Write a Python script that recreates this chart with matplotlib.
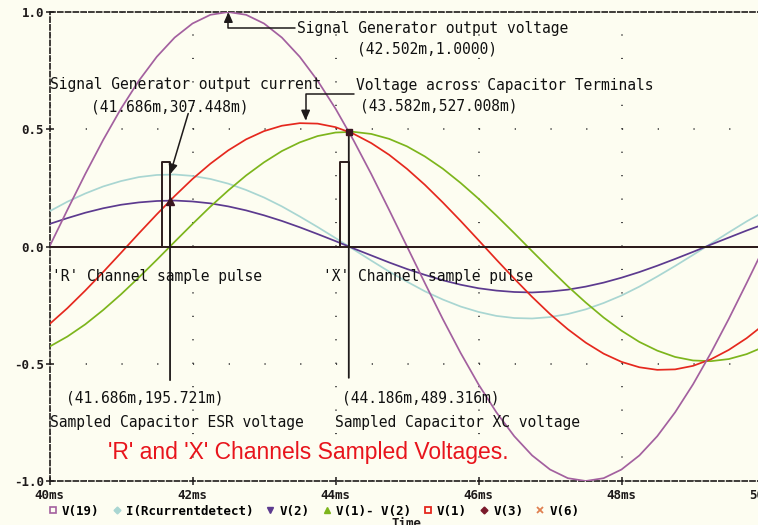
import matplotlib
matplotlib.use("Agg")
import matplotlib.pyplot as plt
from matplotlib.lines import Line2D

plt.rcParams['lines.scale_dashes'] = False

# ---------------- data ----------------
time_ms = [40.0, 40.25, 40.5, 40.75, 41.0, 41.25, 41.5, 41.75, 42.0, 42.25,
           42.5, 42.75, 43.0, 43.25, 43.5, 43.75, 44.0, 44.25, 44.5, 44.75,
           45.0, 45.25, 45.5, 45.75, 46.0, 46.25, 46.5, 46.75, 47.0, 47.25,
           47.5, 47.75, 48.0, 48.25, 48.5, 48.75, 49.0, 49.25, 49.5, 49.75, 50.0]

# V(19) signal generator output voltage
v19 = [0.000, 0.156, 0.309, 0.454, 0.588, 0.707, 0.809, 0.891, 0.951, 0.988,
       1.000, 0.988, 0.951, 0.891, 0.809, 0.707, 0.588, 0.454, 0.309, 0.156,
       0.000, -0.156, -0.309, -0.454, -0.588, -0.707, -0.809, -0.891, -0.951, -0.988,
       -1.000, -0.988, -0.951, -0.891, -0.809, -0.707, -0.588, -0.454, -0.309, -0.156, 0.000]

# I(Rcurrentdetect)
i_rcur = [0.150, 0.191, 0.226, 0.256, 0.279, 0.296, 0.305, 0.307, 0.301, 0.288,
          0.268, 0.241, 0.209, 0.171, 0.128, 0.083, 0.036, -0.012, -0.060, -0.107,
          -0.150, -0.191, -0.226, -0.256, -0.279, -0.296, -0.305, -0.307, -0.301, -0.288,
          -0.268, -0.241, -0.209, -0.171, -0.128, -0.083, -0.036, 0.012, 0.060, 0.107, 0.150]

# V(2)
v2 = [0.096, 0.121, 0.144, 0.163, 0.178, 0.188, 0.194, 0.196, 0.192, 0.184,
      0.171, 0.154, 0.133, 0.109, 0.082, 0.053, 0.023, -0.008, -0.038, -0.068,
      -0.096, -0.121, -0.144, -0.163, -0.178, -0.188, -0.194, -0.196, -0.192, -0.184,
      -0.171, -0.154, -0.133, -0.109, -0.082, -0.053, -0.023, 0.008, 0.038, 0.068, 0.096]

# V(1)- V(2)
v1_minus_v2 = [-0.427, -0.384, -0.332, -0.271, -0.204, -0.132, -0.057, 0.020, 0.096, 0.170,
               0.239, 0.303, 0.359, 0.407, 0.444, 0.471, 0.486, 0.489, 0.480, 0.459,
               0.427, 0.384, 0.332, 0.271, 0.204, 0.132, 0.057, -0.020, -0.096, -0.170,
               -0.239, -0.303, -0.359, -0.407, -0.444, -0.471, -0.486, -0.489, -0.480, -0.459, -0.427]

# V(1)
v1 = [-0.331, -0.263, -0.188, -0.109, -0.027, 0.056, 0.137, 0.215, 0.288, 0.353,
      0.410, 0.457, 0.492, 0.515, 0.526, 0.524, 0.509, 0.481, 0.441, 0.391,
      0.331, 0.263, 0.188, 0.109, 0.027, -0.056, -0.137, -0.215, -0.288, -0.353,
      -0.410, -0.457, -0.492, -0.515, -0.526, -0.524, -0.509, -0.481, -0.441, -0.391, -0.331]

# sample pulses V(3) ('R' channel) and V(6) ('X' channel)
v3_t = [40.0, 41.57, 41.57, 41.686, 41.686, 50.0]
v3_v = [0.0, 0.0, 0.36, 0.36, 0.0, 0.0]
v6_t = [40.0, 44.06, 44.06, 44.186, 44.186, 50.0]
v6_v = [0.0, 0.0, 0.36, 0.36, 0.0, 0.0]

# cursor readings
vgen_peak = (42.502, 1.0000)
icur_peak = (41.686, 0.307448)
vcap_peak = (43.582, 0.527008)
esr_sample = (41.686, 0.195721)
xc_sample = (44.186, 0.489316)

x_ticks = [40, 42, 44, 46, 48, 50]
x_tick_labels = ['40ms', '42ms', '44ms', '46ms', '48ms', '50ms']
y_ticks = [-1.0, -0.5, 0.0, 0.5, 1.0]
y_tick_labels = ['-1.0', '-0.5', '0.0', '0.5', '1.0']

series_names = ['V(19)', 'I(Rcurrentdetect)', 'V(2)', 'V(1)- V(2)', 'V(1)', 'V(3)', 'V(6)']

# ---------------- style ----------------
BG = '#fdfdf1'
C_VGEN = '#a3609f'
C_I = '#a9d6d2'
C_V2 = '#5c3a8f'
C_GREEN = '#7db51c'
C_RED = '#e5281e'
C_PULSE = '#2d1c1c'
C_AX = '#1e1a1a'
MONO = 'DejaVu Sans Mono'

fig = plt.figure(figsize=(7.58, 5.25), dpi=100, facecolor=BG)
ax = fig.add_axes([49.5 / 758, 44 / 525, 715 / 758, 469 / 525])
ax.set_facecolor(BG)
ax.set_xlim(40, 50)
ax.set_ylim(-1, 1)

# grid of sparse dots
ax.xaxis.grid(True, color='#3a3a3a', linewidth=1.3, linestyle=(0, (0.8, 16.08)))
ax.yaxis.grid(True, color='#3a3a3a', linewidth=1.3, linestyle=(0, (0.8, 24.94)))
ax.set_axisbelow(True)

lw = 1.25
ax.plot(time_ms, i_rcur, color=C_I, lw=lw, zorder=3)
ax.plot(time_ms, v2, color=C_V2, lw=lw, zorder=3)
ax.plot(time_ms, v1_minus_v2, color=C_GREEN, lw=lw, zorder=3)
ax.plot(time_ms, v1, color=C_RED, lw=lw, zorder=3)
ax.plot(time_ms, v19, color=C_VGEN, lw=lw, zorder=3)
ax.plot(v3_t, v3_v, color=C_PULSE, lw=1.4, zorder=4)
ax.plot(v6_t, v6_v, color=C_PULSE, lw=1.4, zorder=4)

# spines
for s in ['left', 'top', 'bottom']:
    ax.spines[s].set_linestyle((0, (3.6, 2.0)))
    ax.spines[s].set_color(C_AX)
    ax.spines[s].set_linewidth(1.2)
ax.spines['right'].set_visible(False)

ax.set_xticks(x_ticks)
ax.set_xticklabels(x_tick_labels)
ax.set_yticks(y_ticks)
ax.set_yticklabels(y_tick_labels)
ax.tick_params(axis='both', direction='inout', length=6, width=1.1, colors=C_AX)
ax.tick_params(axis='y', pad=1, labelsize=9)
ax.tick_params(axis='x', pad=3, labelsize=9)
for lab in ax.get_xticklabels() + ax.get_yticklabels():
    lab.set_fontfamily(MONO)
    lab.set_fontweight('bold')

# ---------------- annotations ----------------
tkw = dict(fontfamily=MONO, fontsize=10.5, color='#111111', va='center', ha='left', zorder=6)
ax.text(43.462, 0.930, 'Signal Generator output voltage', **tkw)
ax.text(44.30, 0.844, '(42.502m,1.0000)', **tkw)
ax.text(40.007, 0.691, 'Signal Generator output current', **tkw)
ax.text(40.58, 0.597, '(41.686m,307.448m)', **tkw)
ax.text(44.287, 0.687, 'Voltage across Capacitor Terminals', **tkw)
ax.text(44.343, 0.601, '(43.582m,527.008m)', **tkw)
ax.text(40.035, -0.128, "'R' Channel sample pulse", **tkw)
ax.text(43.825, -0.128, "'X' Channel sample pulse", **tkw)
ax.text(40.231, -0.648, '(41.686m,195.721m)', **tkw)
ax.text(40.007, -0.751, 'Sampled Capacitor ESR voltage', **tkw)
ax.text(44.091, -0.648, '(44.186m,489.316m)', **tkw)
ax.text(43.993, -0.751, 'Sampled Capacitor XC voltage', **tkw)

akw = dict(arrowstyle='-|>,head_length=0.5,head_width=0.22', color=C_AX, lw=1.1,
           shrinkA=0, shrinkB=0, mutation_scale=12)
ax.annotate('', xy=vgen_peak, xytext=(43.44, 0.930),
            arrowprops=dict(connectionstyle='angle,angleA=180,angleB=90,rad=0', **akw), zorder=6)
ax.annotate('', xy=(vcap_peak[0], vcap_peak[1] + 0.01), xytext=(44.26, 0.650),
            arrowprops=dict(connectionstyle='angle,angleA=180,angleB=90,rad=0', **akw), zorder=6)
ax.annotate('', xy=icur_peak, xytext=(41.94, 0.567), arrowprops=dict(**akw), zorder=6)
ax.annotate('', xy=esr_sample, xytext=(esr_sample[0], -0.57),
            arrowprops=dict(arrowstyle='-', color=C_AX, lw=1.3, shrinkA=0, shrinkB=0), zorder=5)
ax.annotate('', xy=xc_sample, xytext=(xc_sample[0], -0.56),
            arrowprops=dict(arrowstyle='-', color=C_AX, lw=1.3, shrinkA=0, shrinkB=0), zorder=5)
ax.plot([esr_sample[0]], [esr_sample[1]], marker='^', ms=6, color='#3a1620', ls='none', zorder=7)
ax.plot([xc_sample[0]], [xc_sample[1]], marker='s', ms=5, color='#3a1620', ls='none', zorder=7)

ax.text(40.82, -0.878, "'R' and 'X' Channels Sampled Voltages.", fontfamily='Liberation Sans',
        fontsize=16.5, color='#e8141c', va='center', ha='left', zorder=6)

# ---------------- legend ----------------
handles = [
    Line2D([], [], ls='none', marker='s', ms=4, mfc='none', mec=C_VGEN, mew=1.2),
    Line2D([], [], ls='none', marker='D', ms=3.5, color=C_I),
    Line2D([], [], ls='none', marker='v', ms=5, color=C_V2),
    Line2D([], [], ls='none', marker='^', ms=5, color=C_GREEN),
    Line2D([], [], ls='none', marker='s', ms=4, mfc='none', mec=C_RED, mew=1.3),
    Line2D([], [], ls='none', marker='D', ms=3.5, color='#7a1a2a'),
    Line2D([], [], ls='none', marker='x', ms=4.5, color='#e08050', mew=1.3),
]
fig.legend(handles, series_names, loc='center', bbox_to_anchor=(314 / 758, 14 / 525), ncol=7,
           frameon=False, handlelength=0.7, handletextpad=0.4, columnspacing=1.0,
           prop={'family': MONO, 'weight': 'bold', 'size': 9}, borderpad=0, borderaxespad=0)

fig.text(406 / 758, 8 / 525, 'Time', ha='center', va='top', fontfamily=MONO,
         fontweight='bold', fontsize=9, color=C_AX)

fig.savefig('out.png', dpi=100, facecolor=BG)
